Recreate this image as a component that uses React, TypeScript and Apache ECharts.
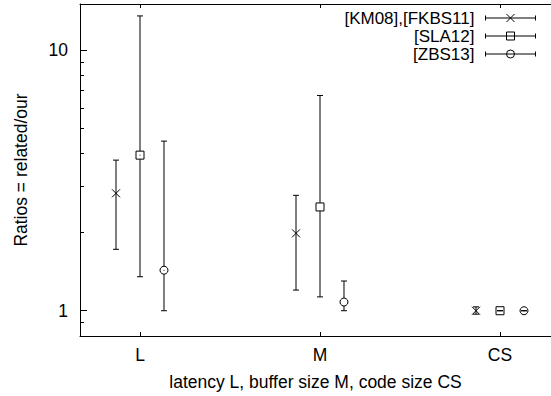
import React, { useEffect, useRef } from "react";
import * as echarts from "echarts";

// ---- data ----
const categories = ["L", "M", "CS"];
const seriesNames = ["[KM08],[FKBS11]", "[SLA12]", "[ZBS13]"];

const km08Value = [2.82, 1.98, 1.0];
const km08Low = [1.72, 1.2, 0.97];
const km08High = [3.78, 2.77, 1.035];

const sla12Value = [3.95, 2.5, 1.0];
const sla12Low = [1.35, 1.13, 1.0];
const sla12High = [13.5, 6.69, 1.0];

const zbs13Value = [1.43, 1.08, 1.0];
const zbs13Low = [1.0, 1.0, 1.0];
const zbs13High = [4.47, 1.3, 1.0];

const yMajorTicks = [1, 10];
const yMinorTicks = [0.9, 2, 3, 4, 5, 6, 7, 8, 9];

// ---- layout / style ----
const FONT = "'Liberation Sans', Arial, Helvetica, sans-serif";
const FS = 17.5;
const INK = "#000";
const OFFSET = 0.1333;
const X_MIN = 2 / 3;
const X_MAX = 1 + 411 / 180;
const CAP = 3;
const MK = 4;

type Marker = "cross" | "square" | "circle";

function buildData(v: number[], lo: number[], hi: number[], shift: number) {
  return categories.map((_, i) => [i + 1 + shift, v[i], lo[i], hi[i]]);
}

function makeRenderItem(marker: Marker) {
  return (params: any, api: any) => {
    const x = api.value(0);
    const c = api.coord([x, api.value(1)]);
    const pl = api.coord([x, api.value(2)]);
    const ph = api.coord([x, api.value(3)]);
    const st = { stroke: INK, lineWidth: 1, fill: "none" };
    const children: any[] = [];
    const cx = c[0];
    const cy = c[1];
    if (marker === "cross") {
      children.push({ type: "line", shape: { x1: cx, y1: pl[1], x2: cx, y2: ph[1] }, style: st });
    } else {
      if (ph[1] < cy - MK) children.push({ type: "line", shape: { x1: cx, y1: ph[1], x2: cx, y2: cy - MK }, style: st });
      if (pl[1] > cy + MK) children.push({ type: "line", shape: { x1: cx, y1: cy + MK, x2: cx, y2: pl[1] }, style: st });
    }
    children.push({ type: "line", shape: { x1: cx - CAP, y1: pl[1], x2: cx + CAP, y2: pl[1] }, style: st });
    children.push({ type: "line", shape: { x1: cx - CAP, y1: ph[1], x2: cx + CAP, y2: ph[1] }, style: st });
    if (marker === "cross") {
      children.push({ type: "line", shape: { x1: cx - MK, y1: cy - MK, x2: cx + MK, y2: cy + MK }, style: st });
      children.push({ type: "line", shape: { x1: cx - MK, y1: cy + MK, x2: cx + MK, y2: cy - MK }, style: st });
    } else if (marker === "square") {
      children.push({ type: "rect", shape: { x: cx - MK, y: cy - MK, width: 2 * MK, height: 2 * MK }, style: st });
      children.push({ type: "circle", shape: { cx, cy, r: 0.5 }, style: { fill: INK } });
    } else {
      children.push({ type: "circle", shape: { cx, cy, r: MK }, style: st });
      children.push({ type: "circle", shape: { cx, cy, r: 0.5 }, style: { fill: INK } });
    }
    return { type: "group", children };
  };
}

const capPath = "M0 4L50 4M0 1.5L0 6.5M50 1.5L50 6.5";
const legendIcons = [
  "path://" + capPath + "M21 0L29 8M29 0L21 8",
  "path://" + capPath + "M21 0L29 0L29 8L21 8Z",
  "path://" + capPath + "M29 4A4 4 0 1 1 21 4A4 4 0 1 1 29 4",
];

export default function App() {
  const ref = useRef<HTMLDivElement>(null);
  useEffect(() => {
    if (!ref.current) return;
    const chart = echarts.init(ref.current, null, { renderer: "svg" });
    const textStyle = { fontFamily: FONT, fontSize: FS, color: INK };
    const option: any = {
      animation: false,
      backgroundColor: "#fff",
      textStyle: { fontFamily: FONT },
      grid: { left: 80, right: 0, top: 4, bottom: 59, containLabel: false },
      legend: {
        orient: "vertical",
        align: "right",
        right: 13,
        top: 9,
        padding: 0,
        itemGap: 0,
        itemWidth: 50,
        itemHeight: 8,
        selectedMode: false,
        itemStyle: { color: "none", borderColor: INK, borderWidth: 1 },
        textStyle: { fontFamily: FONT, fontSize: 17, color: INK, lineHeight: 18, padding: [0, 6, 0, 0] },
        data: seriesNames.map((n, i) => ({ name: n, icon: legendIcons[i] })),
      },
      xAxis: [
        {
          type: "value",
          min: X_MIN,
          max: X_MAX,
          position: "bottom",
          axisLine: { show: true, onZero: false, lineStyle: { color: INK, width: 1 } },
          axisTick: { show: true, inside: true, length: 4, customValues: [1, 2, 3], lineStyle: { color: INK } },
          axisLabel: {
            customValues: [1, 2, 3],
            formatter: (v: number) => categories[Math.round(v) - 1] ?? "",
            margin: 10,
            ...textStyle,
          },
          splitLine: { show: false },
          name: "latency L, buffer size M, code size CS",
          nameLocation: "middle",
          nameGap: 37,
          nameTextStyle: textStyle,
        },
        {
          type: "value",
          min: X_MIN,
          max: X_MAX,
          position: "top",
          axisLine: { show: true, onZero: false, lineStyle: { color: INK, width: 1 } },
          axisTick: { show: true, inside: true, length: 4, customValues: [1, 2, 3], lineStyle: { color: INK } },
          axisLabel: { show: false },
          splitLine: { show: false },
        },
      ],
      yAxis: [
        {
          type: "log",
          logBase: 10,
          min: 0.8,
          max: 15,
          position: "left",
          axisLine: { show: true, onZero: false, lineStyle: { color: INK, width: 1 } },
          axisTick: { show: true, inside: true, length: 7, customValues: yMajorTicks, lineStyle: { color: INK } },
          axisLabel: { customValues: yMajorTicks, margin: 12, ...textStyle },
          splitLine: { show: false },
          minorTick: { show: false },
          name: "Ratios = related/our",
          nameLocation: "middle",
          nameRotate: 90,
          nameGap: 50,
          nameTextStyle: textStyle,
        },
        {
          type: "log",
          logBase: 10,
          min: 0.8,
          max: 15,
          position: "left",
          axisLine: { show: false },
          axisTick: { show: true, inside: true, length: 4, customValues: yMinorTicks, lineStyle: { color: INK } },
          axisLabel: { show: false },
          splitLine: { show: false },
        },
      ],
      series: [
        {
          name: seriesNames[0],
          type: "custom",
          renderItem: makeRenderItem("cross"),
          data: buildData(km08Value, km08Low, km08High, -OFFSET),
          encode: { x: 0, y: [1, 2, 3] },
          itemStyle: { color: INK },
        },
        {
          name: seriesNames[1],
          type: "custom",
          renderItem: makeRenderItem("square"),
          data: buildData(sla12Value, sla12Low, sla12High, 0),
          encode: { x: 0, y: [1, 2, 3] },
          itemStyle: { color: INK },
        },
        {
          name: seriesNames[2],
          type: "custom",
          renderItem: makeRenderItem("circle"),
          data: buildData(zbs13Value, zbs13Low, zbs13High, OFFSET),
          encode: { x: 0, y: [1, 2, 3] },
          itemStyle: { color: INK },
        },
      ],
    };
    chart.setOption(option);
    return () => chart.dispose();
  }, []);
  return (
    <div
      ref={ref}
      style={{ position: "fixed", left: 0, top: 0, width: 551, height: 396, background: "#fff" }}
    />
  );
}
